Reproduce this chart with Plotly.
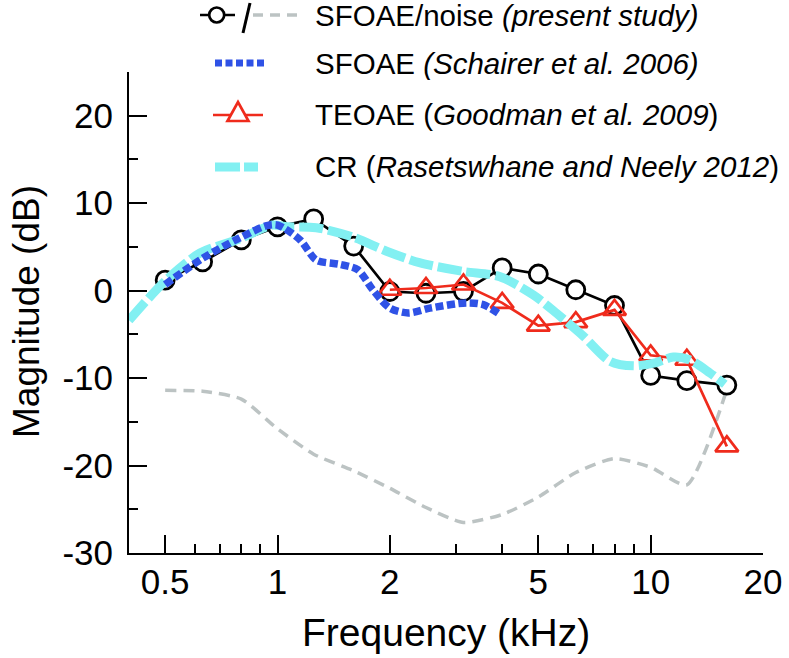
import math
import plotly.graph_objects as go

# ---------------- data ----------------
sfoae_freq = [0.5, 0.63, 0.8, 1.0, 1.25, 1.6, 2.0, 2.5, 3.15, 4.0, 5.0, 6.3, 8.0, 10.0, 12.5, 16.0]
sfoae_db = [1.2, 3.3, 5.8, 7.3, 8.2, 5.1, -0.1, -0.3, -0.1, 2.6, 1.9, 0.1, -1.7, -9.7, -10.3, -10.8]

noise_freq = [0.5, 0.63, 0.8, 1.0, 1.25, 1.6, 2.0, 2.5, 3.15, 4.0, 5.0, 6.3, 8.0, 10.0, 12.5, 16.0]
noise_db = [-11.4, -11.5, -12.4, -15.8, -18.7, -20.6, -22.6, -24.8, -26.5, -25.6, -23.6, -20.8, -19.2, -20.2, -22.2, -11.3]

teoae_freq = [2.0, 2.5, 3.15, 4.0, 5.0, 6.3, 8.0, 10.0, 12.5, 16.0]
teoae_db = [0.1, 0.3, 0.7, -1.4, -4.0, -3.6, -2.2, -7.4, -7.9, -17.8]

schairer_freq = [0.5, 0.63, 0.79, 0.93, 1.0, 1.15, 1.27, 1.47, 1.64, 1.80, 2.0, 2.24, 2.56, 3.21, 3.56, 3.94]
schairer_db = [0.7, 3.7, 6.0, 7.4, 7.5, 5.8, 3.5, 3.0, 2.4, 0.1, -2.0, -2.55, -2.0, -1.4, -1.6, -2.7]

cr_freq = [0.40, 0.50, 0.62, 0.79, 0.97, 1.06, 1.27, 1.60, 1.96, 2.40, 3.14, 3.94, 4.85, 5.6, 6.6, 7.8, 9.0, 10.2, 11.5, 12.7, 14.4, 15.8]
cr_db = [-3.4, 1.1, 4.3, 5.9, 7.5, 7.3, 7.2, 6.1, 4.5, 3.2, 2.2, 1.6, -0.5, -2.6, -5.2, -8.1, -8.6, -8.3, -7.6, -7.9, -9.4, -10.7]

x_tick_vals = [0.5, 1, 2, 5, 10, 20]
x_tick_text = ["0.5", "1", "2", "5", "10", "20"]
x_minor_vals = [0.6, 0.7, 0.8, 0.9, 3, 4, 6, 7, 8, 9]
y_tick_vals = [-30, -20, -10, 0, 10, 20]
y_tick_text = ["-30", "-20", "-10", "0", "10", "20"]
y_minor_vals = [-25, -15, -5, 5, 15, 25]

x_title = "Frequency (kHz)"
y_title = "Magnitude (dB)"
legend_labels = [
    "SFOAE/noise <i>(present study)</i>",
    "SFOAE <i>(Schairer et al. 2006)</i>",
    "TEOAE (<i>Goodman et al. 2009</i>)",
    "CR (<i>Rasetswhane and Neely 2012</i>)",
]

# ---------------- style ----------------
FONT = "Liberation Sans, Arial, Helvetica, sans-serif"
BLACK = "#000000"
RED = "#EF2B1C"
BLUE = "#2F52E6"
CYAN = "#82F0F2"
GRAY = "#BCC3C3"

W, H = 789, 658
ML, MR, MT, MB = 129, 26, 72, 105
PW, PH = W - ML - MR, H - MT - MB


def PX(x):
    return (x - ML) / PW


def PY(y):
    return (H - MB - y) / PH


fig = go.Figure()

fig.add_trace(go.Scatter(
    x=noise_freq, y=noise_db, mode="lines",
    line=dict(color=GRAY, width=3.5, dash="11px,7px", shape="spline", smoothing=0.6),
    hoverinfo="skip"))

fig.add_trace(go.Scatter(
    x=sfoae_freq, y=sfoae_db, mode="lines+markers",
    line=dict(color=BLACK, width=2.7),
    marker=dict(symbol="circle", size=18, color="white", line=dict(color=BLACK, width=2.8))))

fig.add_trace(go.Scatter(
    x=teoae_freq, y=teoae_db, mode="lines+markers",
    line=dict(color=RED, width=2.7),
    marker=dict(symbol="triangle-up", size=20, color="rgba(255,255,255,0)", line=dict(color=RED, width=2.7))))

fig.add_trace(go.Scatter(
    x=cr_freq, y=cr_db, mode="lines",
    line=dict(color=CYAN, width=9, dash="24px,5px", shape="spline", smoothing=0.8),
    hoverinfo="skip"))

fig.add_trace(go.Scatter(
    x=schairer_freq, y=schairer_db, mode="lines",
    line=dict(color=BLUE, width=7.5, dash="8px,3.5px", shape="spline", smoothing=0.8),
    hoverinfo="skip"))

# ---------------- manual legend ----------------
rows_y = [15, 63, 115, 167]
text_x = 313
shapes = []
annotations = []
for lab, ry in zip(legend_labels, rows_y):
    annotations.append(dict(
        x=PX(text_x), y=PY(ry), xref="paper", yref="paper",
        xanchor="left", yanchor="middle", showarrow=False,
        text=lab, font=dict(family=FONT, size=29.5, color=BLACK)))

# row 1: -o- / - - -
r = rows_y[0]
shapes.append(dict(type="line", xref="paper", yref="paper",
                   x0=PX(200), x1=PX(235), y0=PY(r), y1=PY(r),
                   line=dict(color=BLACK, width=2.7)))
shapes.append(dict(type="circle", xref="paper", yref="paper",
                   x0=PX(216.7 - 7.5), x1=PX(216.7 + 7.5), y0=PY(r + 7.5), y1=PY(r - 7.5),
                   fillcolor="white", line=dict(color=BLACK, width=2.7)))
shapes.append(dict(type="line", xref="paper", yref="paper",
                   x0=PX(243), x1=PX(250), y0=PY(33), y1=PY(3),
                   line=dict(color=BLACK, width=3)))
shapes.append(dict(type="line", xref="paper", yref="paper",
                   x0=PX(253), x1=PX(300), y0=PY(r), y1=PY(r),
                   line=dict(color=GRAY, width=3.5, dash="10px,7px")))
# row 2: blue dots
r = rows_y[1]
shapes.append(dict(type="line", xref="paper", yref="paper",
                   x0=PX(215), x1=PX(266), y0=PY(r), y1=PY(r),
                   line=dict(color=BLUE, width=7, dash="7px,3.5px")))
# row 3: red line + triangle
r = rows_y[2]
shapes.append(dict(type="line", xref="paper", yref="paper",
                   x0=PX(213), x1=PX(263), y0=PY(r), y1=PY(r),
                   line=dict(color=RED, width=2.7)))
cx, cy = 238, r - 2
tri = "M {:.5f},{:.5f} L {:.5f},{:.5f} L {:.5f},{:.5f} Z".format(
    PX(cx - 10.5), PY(cy + 8), PX(cx + 10.5), PY(cy + 8), PX(cx), PY(cy - 11))
shapes.append(dict(type="path", xref="paper", yref="paper", path=tri,
                   fillcolor="white", line=dict(color=RED, width=2.7)))
# row 4: cyan dashes
r = rows_y[3]
shapes.append(dict(type="line", xref="paper", yref="paper",
                   x0=PX(215), x1=PX(258), y0=PY(r), y1=PY(r),
                   line=dict(color=CYAN, width=9, dash="25px,4px")))

# axis titles placed precisely
annotations.append(dict(
    x=PX(446), y=PY(632), xref="paper", yref="paper",
    xanchor="center", yanchor="middle", showarrow=False,
    text=x_title, font=dict(family=FONT, size=39, color=BLACK)))
annotations.append(dict(
    x=PX(26), y=PY(312), xref="paper", yref="paper",
    xanchor="center", yanchor="middle", showarrow=False, textangle=-90,
    text=y_title, font=dict(family=FONT, size=37, color=BLACK)))

fig.update_layout(
    width=W, height=H,
    margin=dict(l=ML, r=MR, t=MT, b=MB),
    paper_bgcolor="white", plot_bgcolor="white",
    showlegend=False,
    font=dict(family=FONT, color=BLACK),
    shapes=shapes, annotations=annotations,
)

fig.update_xaxes(
    type="log", range=[math.log10(0.4), math.log10(20)],
    showline=True, linecolor=BLACK, linewidth=2,
    ticks="inside", ticklen=18, tickwidth=2, tickcolor=BLACK,
    tickvals=x_tick_vals, ticktext=x_tick_text,
    tickfont=dict(family=FONT, size=35, color=BLACK),
    ticklabelstandoff=-3,
    showgrid=False, zeroline=False,
    minor=dict(tickvals=x_minor_vals, ticks="inside", ticklen=9, tickwidth=2, tickcolor=BLACK, showgrid=False),
    automargin=False,
)
fig.update_yaxes(
    range=[-30, 25],
    showline=True, linecolor=BLACK, linewidth=2,
    ticks="inside", ticklen=18, tickwidth=2, tickcolor=BLACK,
    tickvals=y_tick_vals, ticktext=y_tick_text,
    tickfont=dict(family=FONT, size=35, color=BLACK),
    ticklabelstandoff=7,
    showgrid=False, zeroline=False,
    minor=dict(tickvals=y_minor_vals, ticks="inside", ticklen=9, tickwidth=2, tickcolor=BLACK, showgrid=False),
    automargin=False,
)

# remove the default page margin so the figure sits at the window's top-left corner
fig.write_html(
    "out.html",
    config={"displayModeBar": False},
    post_script="document.body.style.margin='0';document.body.style.padding='0';",
)
